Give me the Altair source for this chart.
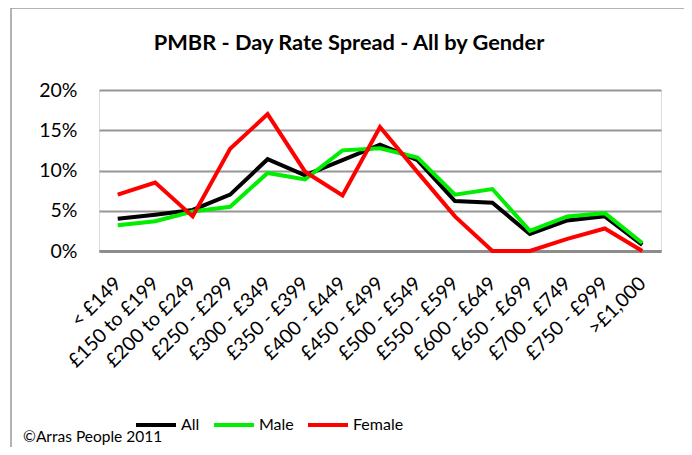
import altair as alt
import pandas as pd

categories = ["< £149", "£150 to £199", "£200 to £249", "£250 - £299", "£300 - £349",
              "£350 - £399", "£400 - £449", "£450 - £499", "£500 - £549", "£550 - £599",
              "£600 - £649", "£650 - £699", "£700 - £749", "£750 - £999", ">£1,000"]
all_vals = [4.0, 4.5, 5.1, 7.0, 11.4, 9.4, 11.3, 13.2, 11.3, 6.2, 6.0, 2.1, 3.8, 4.3, 0.75]
male_vals = [3.2, 3.7, 4.9, 5.5, 9.7, 8.9, 12.5, 12.75, 11.6, 7.0, 7.7, 2.5, 4.3, 4.7, 1.0]
female_vals = [7.0, 8.5, 4.3, 12.7, 17.0, 9.85, 6.9, 15.4, 9.8, 4.3, 0.0, 0.0, 1.5, 2.8, 0.0]
series = ["All", "Male", "Female"]
colors = ["#000000", "#00EE00", "#FF0000"]
y_ticks = [0, 0.05, 0.10, 0.15, 0.20]
title_text = "PMBR - Day Rate Spread - All by Gender"
credit_text = "©Arras People 2011"

rows = []
for name, vals in zip(series, [all_vals, male_vals, female_vals]):
    for c, v in zip(categories, vals):
        rows.append({"cat": c, "series": name, "value": v / 100})
df = pd.DataFrame(rows)

FONT = "Lato"

lines = alt.Chart(df).mark_line(strokeWidth=4, strokeJoin="miter").encode(
    x=alt.X("cat:N", sort=categories, title=None,
            axis=alt.Axis(labelAngle=-45, labelAlign="right", labelBaseline="middle",
                          labelPadding=29, ticks=False, domain=True, domainColor="#8c8c8c",
                          domainWidth=3, labelFontSize=19.5, labelFont=FONT, labelColor="#000",
                          grid=False)),
    y=alt.Y("value:Q", scale=alt.Scale(domain=[0, 0.2]), title=None,
            axis=alt.Axis(values=y_ticks, format=".0%", ticks=False, domain=False,
                          labelPadding=22, labelFontSize=19.5, labelFont=FONT, labelColor="#000",
                          grid=True, gridColor="#969696", gridWidth=2)),
    color=alt.Color("series:N", sort=series,
                    scale=alt.Scale(domain=series, range=colors),
                    legend=alt.Legend(title=None, orient="none", direction="horizontal",
                                      legendX=35, legendY=313, symbolType="stroke",
                                      symbolSize=1600, symbolStrokeWidth=4,
                                      labelFontSize=16, labelFont=FONT, labelColor="#000",
                                      columnPadding=6, labelOffset=3)),
)

one = pd.DataFrame({"a": [0]})

border = alt.Chart(one).mark_rect(
    fill="transparent", stroke="#9a9a9a", strokeWidth=1.5
).encode(x=alt.value(-88), x2=alt.value(591), y=alt.value(-82), y2=alt.value(400))

title_mark = alt.Chart(one).mark_text(
    align="center", baseline="middle", fontSize=21.8, fontWeight="bold", font=FONT, color="#000"
).encode(x=alt.value(250), y=alt.value(-47), text=alt.value(title_text))

credit = alt.Chart(one).mark_text(
    align="left", baseline="middle", fontSize=15.5, font=FONT, color="#000"
).encode(x=alt.value(-76), y=alt.value(347), text=alt.value(credit_text))

chart = alt.layer(border, lines, title_mark, credit).properties(
    width=562, height=161,
    padding={"left": 91, "top": 82, "right": 23, "bottom": 196},
    autosize=alt.AutoSizeParams(type="none"),
).configure_view(stroke=None).configure(background="white")

chart.save("out.html", embed_options={"renderer": "svg", "actions": False})
